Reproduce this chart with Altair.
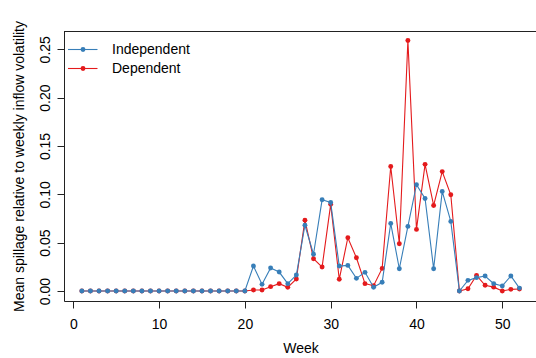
import altair as alt
import pandas as pd

weeks = list(range(1, 53))
independent = [0.0] * 20 + [
    0.0258, 0.0069, 0.0238, 0.0196, 0.0076, 0.0165, 0.0680, 0.0380,
    0.0943, 0.0916, 0.0258, 0.0265, 0.0131, 0.0193, 0.0038, 0.0090,
    0.0699, 0.0230, 0.0668, 0.1100, 0.0957, 0.0230, 0.1030, 0.0720,
    0.0000, 0.0110, 0.0138, 0.0155, 0.0076, 0.0052, 0.0155, 0.0030,
]
dependent = [0.0] * 20 + [
    0.0010, 0.0010, 0.0045, 0.0076, 0.0038, 0.0124, 0.0733, 0.0334,
    0.0248, 0.0896, 0.0121, 0.0551, 0.0344, 0.0076, 0.0055, 0.0234,
    0.1288, 0.0489, 0.2590, 0.0637, 0.1310, 0.0885, 0.1235, 0.0995,
    0.0000, 0.0024, 0.0162, 0.0059, 0.0040, 0.0000, 0.0017, 0.0020,
]
series_names = ["Independent", "Dependent"]
series_colors = ["#377EB8", "#E41A1C"]
x_ticks = [0, 10, 20, 30, 40, 50]
y_ticks = [0.0, 0.05, 0.10, 0.15, 0.20, 0.25]

FONT = "Liberation Sans"
W, H = 472, 270

df = pd.DataFrame({
    "Week": weeks * 2,
    "value": independent + dependent,
    "series": ["Independent"] * len(weeks) + ["Dependent"] * len(weeks),
})

xscale = alt.Scale(domain=[-1.08, 53.93], nice=False, zero=False)
yscale = alt.Scale(domain=[-0.01034, 0.2689], nice=False, zero=False)

xaxis = alt.Axis(values=x_ticks, title="Week", grid=False, tickSize=7,
                 labelPadding=9, labelFontSize=14, titleFontSize=14,
                 labelFont=FONT, titleFont=FONT, labelColor="black",
                 titleColor="black", tickColor="#222", domainColor="#222",
                 titleFontWeight="normal", titleX=236.5, titleY=51,
                 titleBaseline="alphabetic", titleAlign="center",
                 labelFlush=False, labelOverlap=False)
yaxis = alt.Axis(values=y_ticks, format=".2f",
                 title="Mean spillage relative to weekly inflow volatility",
                 grid=False, tickSize=7, labelAngle=270, labelAlign="center",
                 labelBaseline="bottom", labelPadding=5, labelFontSize=14,
                 titleFontSize=14, labelFont=FONT, titleFont=FONT,
                 labelColor="black", titleColor="black", tickColor="#222",
                 domainColor="#222", titleFontWeight="normal",
                 titleX=-41, titleY=135, titleAngle=270,
                 titleBaseline="alphabetic", titleAlign="center",
                 labelFlush=False, labelOverlap=False)

enc_x = alt.X("Week:Q", scale=xscale, axis=xaxis)
enc_y = alt.Y("value:Q", scale=yscale, axis=yaxis)

layers = []
for name, color in [("Dependent", series_colors[1]), ("Independent", series_colors[0])]:
    base = alt.Chart(df).transform_filter(alt.datum.series == name)
    layers.append(base.mark_line(color=color, strokeWidth=1.1).encode(x=enc_x, y=enc_y))
    layers.append(base.mark_point(color=color, filled=True, size=24, opacity=1).encode(
        x=enc_x, y=enc_y))

# top border of the box
top = alt.Chart(df).mark_rule(color="#222", strokeWidth=1).encode(
    x=alt.value(0), x2=alt.value(W), y=alt.value(0.5))
layers.append(top)

# manual legend
leg_y = [18.5, 37.5]
for i, (name, color) in enumerate(zip(series_names, series_colors)):
    ld = pd.DataFrame({"label": [name]})
    layers.append(alt.Chart(ld).mark_rule(color=color, strokeWidth=1.1).encode(
        x=alt.value(4), x2=alt.value(33.5), y=alt.value(leg_y[i])))
    layers.append(alt.Chart(ld).mark_point(color=color, filled=True, size=24, opacity=1).encode(
        x=alt.value(19), y=alt.value(leg_y[i])))
    layers.append(alt.Chart(ld).mark_text(align="left", baseline="middle", font=FONT,
                                          fontSize=14, color="black").encode(
        x=alt.value(48), y=alt.value(leg_y[i]), text="label:N"))

chart = alt.layer(*layers).properties(
    width=W, height=H,
    padding={"left": 64, "top": 31, "right": 0, "bottom": 57},
    autosize=alt.AutoSizeParams(type="none"),
).configure_view(stroke=None).configure(background="white")

chart.save("out.html", embed_options={"renderer": "svg", "actions": False})
